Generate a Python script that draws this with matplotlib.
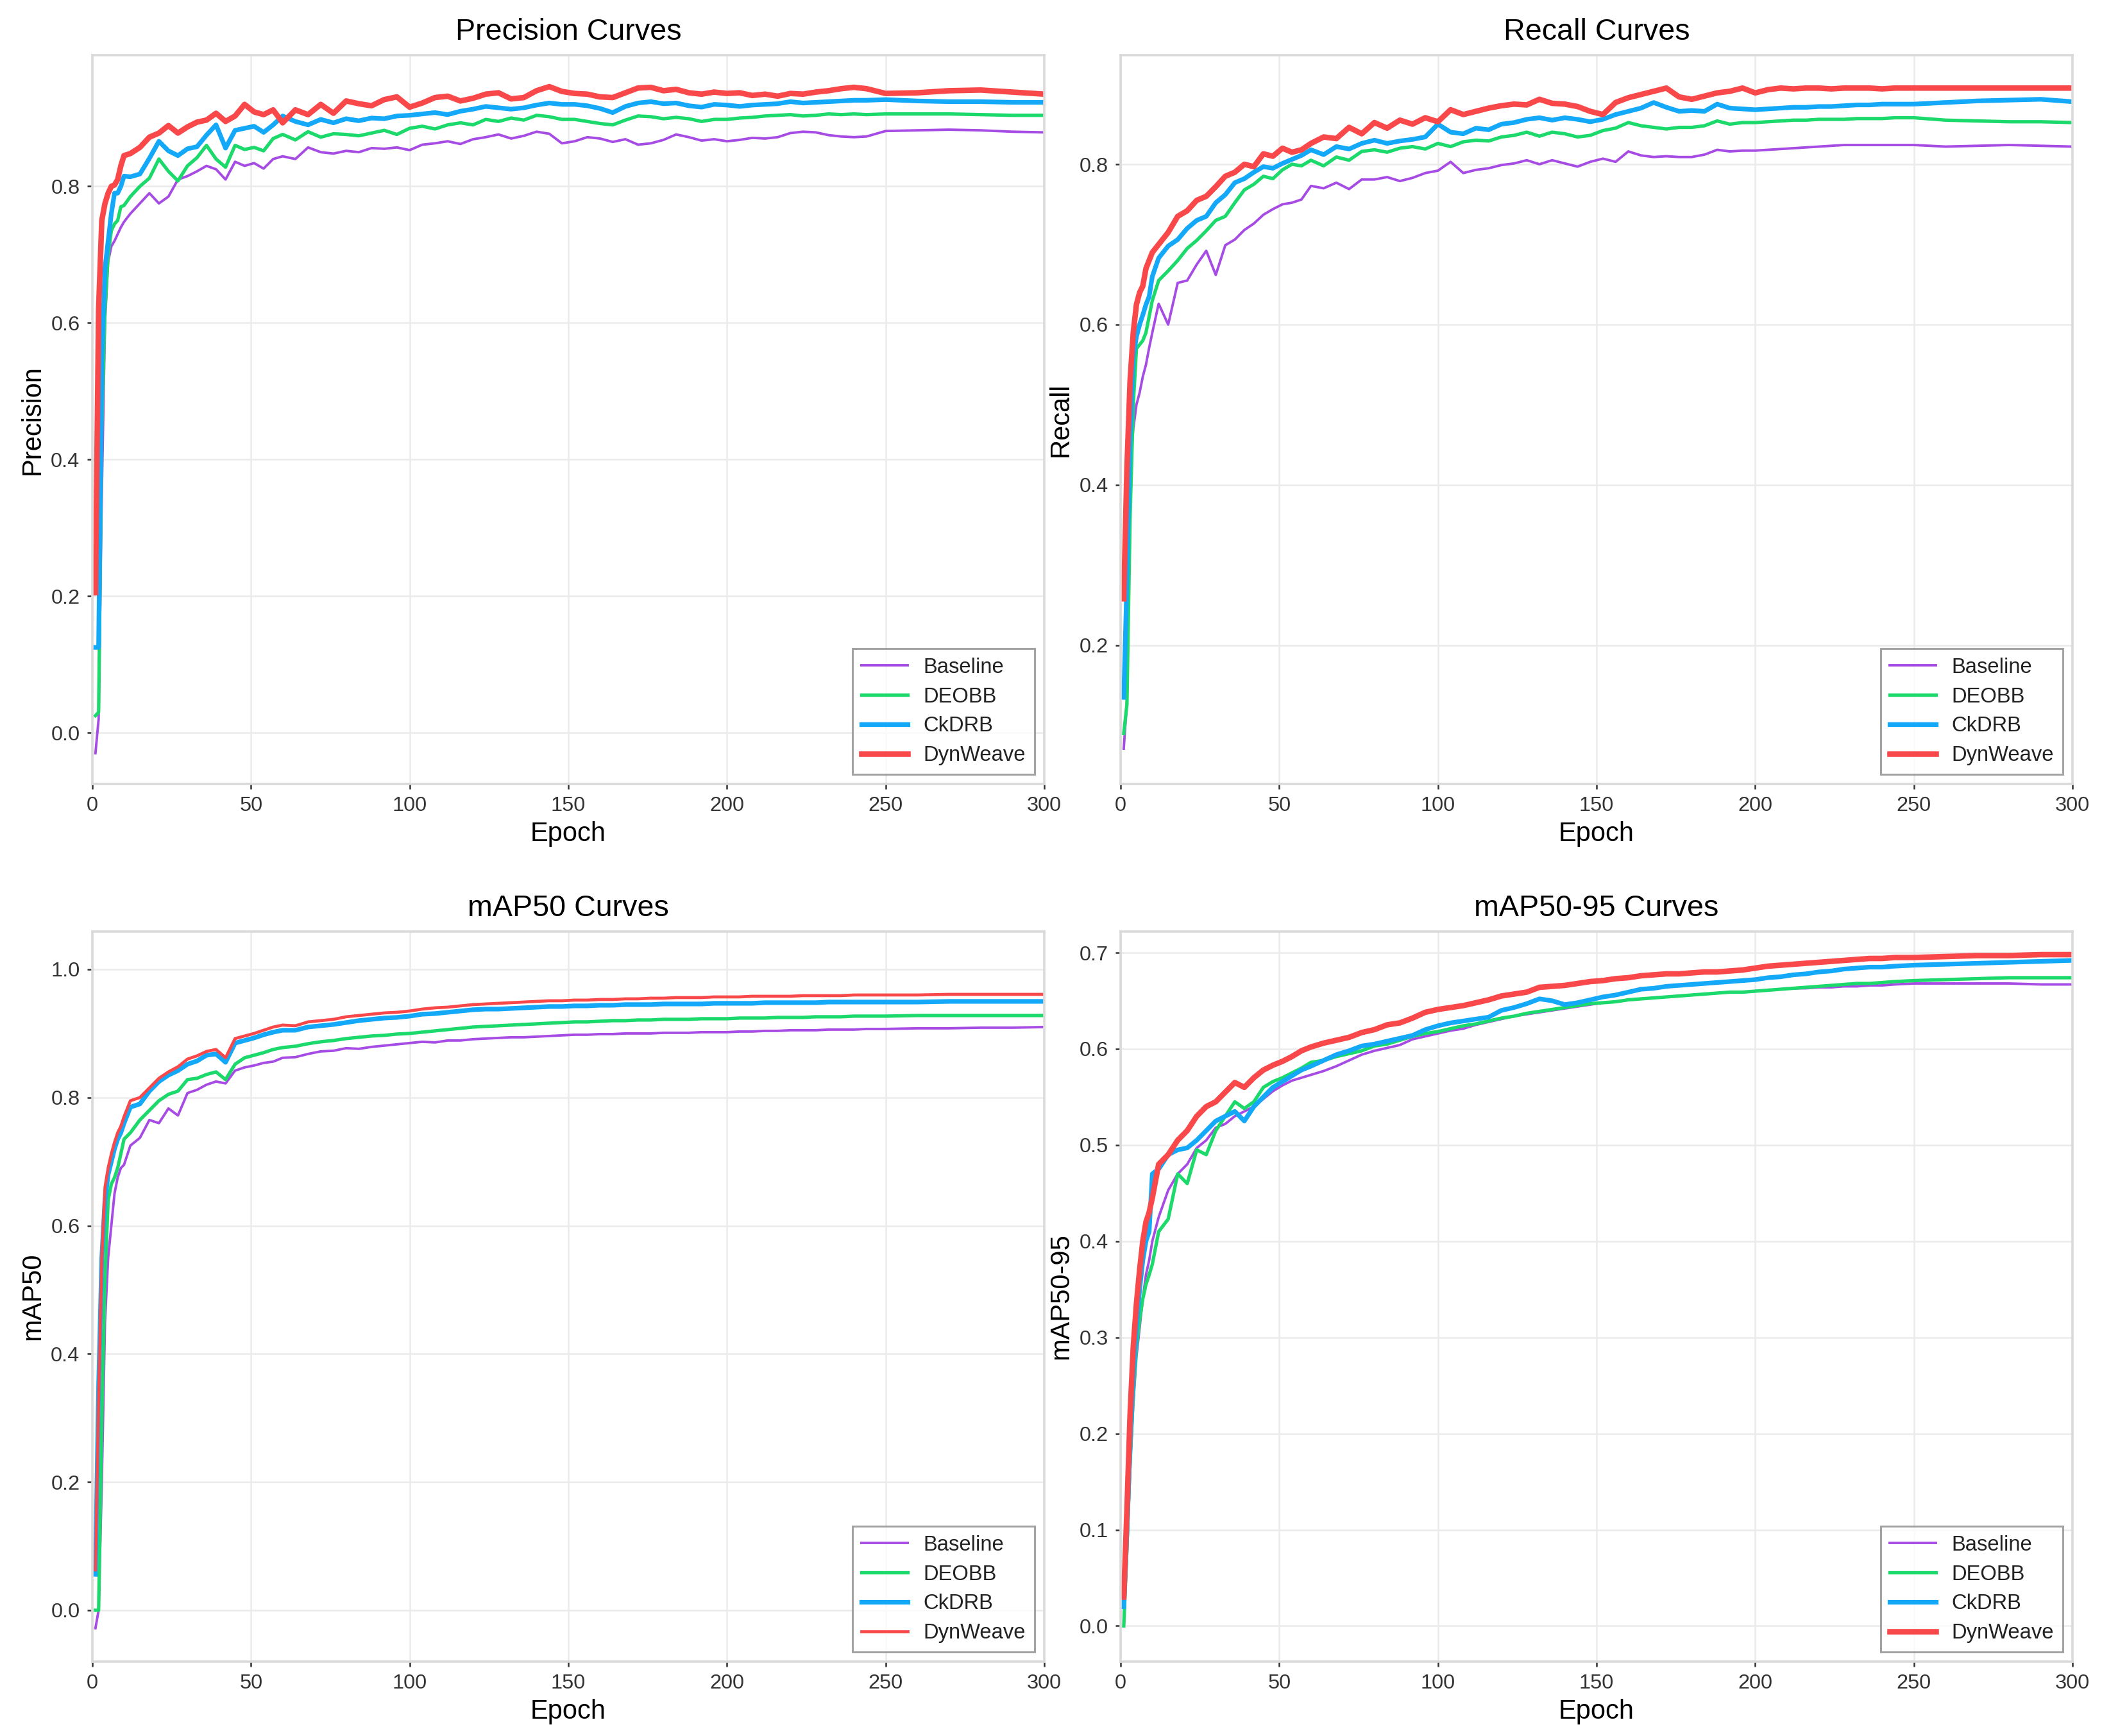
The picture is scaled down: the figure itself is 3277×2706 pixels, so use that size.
import matplotlib
matplotlib.use("Agg")
import matplotlib.pyplot as plt

plt.rcParams['font.family'] = ['Liberation Sans', 'DejaVu Sans']

epochs = ([1, 2, 3, 4, 5, 6, 7, 8, 9, 10]
          + list(range(12, 61, 3))
          + list(range(64, 245, 4))
          + [250, 260, 270, 280, 290, 300])

models = ['Baseline', 'DEOBB', 'CkDRB', 'DynWeave']
colors = ['#A64BE3', '#1BD96A', '#13A8F8', '#F8484A']

# ---- Precision ----
prec_baseline = [-0.03, 0.02, 0.35, 0.60, 0.69, 0.712, 0.72, 0.73, 0.74, 0.748,
                 0.76, 0.775, 0.79, 0.775, 0.785, 0.81, 0.815, 0.822, 0.83, 0.825, 0.81, 0.836, 0.83, 0.834, 0.826, 0.84, 0.844,
                 0.84, 0.857, 0.85, 0.848, 0.852, 0.85, 0.856, 0.855, 0.857, 0.853, 0.861, 0.863, 0.866, 0.862, 0.869,
                 0.872, 0.876, 0.87, 0.874, 0.88, 0.877, 0.863, 0.866, 0.872, 0.87, 0.865, 0.869, 0.861, 0.863, 0.868,
                 0.876, 0.872, 0.867, 0.869, 0.866, 0.868, 0.871, 0.87, 0.872, 0.878, 0.88, 0.879, 0.875, 0.873, 0.872, 0.873,
                 0.881, 0.882, 0.883, 0.882, 0.88, 0.879]
prec_deobb = [0.025, 0.03, 0.45, 0.62, 0.70, 0.735, 0.745, 0.75, 0.77, 0.772,
              0.785, 0.80, 0.812, 0.84, 0.822, 0.808, 0.83, 0.842, 0.86, 0.84, 0.828, 0.86, 0.854, 0.857, 0.852, 0.87, 0.876,
              0.868, 0.88, 0.872, 0.877, 0.876, 0.874, 0.878, 0.882, 0.876, 0.885, 0.888, 0.884, 0.89, 0.893, 0.89,
              0.898, 0.895, 0.9, 0.897, 0.904, 0.902, 0.898, 0.898, 0.895, 0.892, 0.89, 0.897, 0.903, 0.902, 0.899,
              0.901, 0.899, 0.895, 0.898, 0.898, 0.9, 0.901, 0.903, 0.904, 0.905, 0.903, 0.904, 0.906, 0.905, 0.906, 0.905,
              0.906, 0.906, 0.906, 0.905, 0.904, 0.904]
prec_ckdrb = [0.125, 0.125, 0.55, 0.68, 0.72, 0.76, 0.79, 0.79, 0.80, 0.815,
              0.814, 0.818, 0.841, 0.866, 0.852, 0.845, 0.855, 0.858, 0.875, 0.89, 0.856, 0.882, 0.885, 0.888, 0.879, 0.89, 0.903,
              0.895, 0.89, 0.898, 0.893, 0.899, 0.896, 0.9, 0.899, 0.903, 0.904, 0.906, 0.908, 0.905, 0.91, 0.913,
              0.917, 0.915, 0.913, 0.915, 0.919, 0.922, 0.92, 0.92, 0.918, 0.914, 0.908, 0.917, 0.922, 0.924, 0.921,
              0.922, 0.918, 0.916, 0.92, 0.919, 0.917, 0.919, 0.92, 0.921, 0.924, 0.922, 0.923, 0.924, 0.925, 0.926, 0.926,
              0.927, 0.925, 0.924, 0.924, 0.923, 0.923]
prec_dynweave = [0.205, 0.62, 0.75, 0.775, 0.79, 0.80, 0.802, 0.81, 0.83, 0.845,
                 0.848, 0.857, 0.872, 0.878, 0.889, 0.878, 0.887, 0.894, 0.897, 0.907, 0.895, 0.903, 0.92, 0.909, 0.905, 0.912, 0.893,
                 0.912, 0.905, 0.92, 0.907, 0.925, 0.921, 0.918, 0.927, 0.931, 0.916, 0.922, 0.93, 0.932, 0.925, 0.929,
                 0.935, 0.937, 0.928, 0.93, 0.94, 0.946, 0.939, 0.936, 0.935, 0.931, 0.93, 0.937, 0.944, 0.945, 0.94,
                 0.942, 0.937, 0.935, 0.938, 0.936, 0.937, 0.933, 0.935, 0.932, 0.936, 0.935, 0.938, 0.94, 0.943, 0.945, 0.943,
                 0.936, 0.937, 0.94, 0.941, 0.938, 0.935]

# ---- Recall ----
rec_baseline = [0.071, 0.13, 0.42, 0.47, 0.5, 0.515, 0.535, 0.55, 0.571, 0.59,
                0.626, 0.60, 0.652, 0.655, 0.675, 0.692, 0.662, 0.699, 0.706, 0.718, 0.726, 0.737, 0.744, 0.75, 0.752, 0.756, 0.773,
                0.77, 0.777, 0.769, 0.781, 0.781, 0.784, 0.779, 0.783, 0.789, 0.792, 0.803, 0.789, 0.793, 0.795, 0.799,
                0.801, 0.805, 0.8, 0.805, 0.801, 0.797, 0.803, 0.807, 0.803, 0.816, 0.811, 0.809, 0.81, 0.809, 0.809,
                0.812, 0.818, 0.816, 0.817, 0.817, 0.818, 0.819, 0.82, 0.821, 0.822, 0.823, 0.824, 0.824, 0.824, 0.824, 0.824,
                0.824, 0.822, 0.823, 0.824, 0.823, 0.822]
rec_deobb = [0.09, 0.126, 0.36, 0.5, 0.57, 0.575, 0.58, 0.59, 0.61, 0.63,
             0.655, 0.667, 0.68, 0.695, 0.705, 0.717, 0.73, 0.735, 0.752, 0.768, 0.775, 0.785, 0.782, 0.793, 0.8, 0.798, 0.805,
             0.798, 0.809, 0.805, 0.816, 0.818, 0.815, 0.82, 0.822, 0.819, 0.826, 0.822, 0.828, 0.83, 0.829, 0.834,
             0.836, 0.84, 0.835, 0.84, 0.838, 0.834, 0.836, 0.842, 0.845, 0.852, 0.848, 0.846, 0.844, 0.846, 0.846,
             0.848, 0.854, 0.85, 0.852, 0.852, 0.853, 0.854, 0.855, 0.855, 0.856, 0.856, 0.856, 0.857, 0.857, 0.857, 0.858,
             0.858, 0.855, 0.854, 0.853, 0.853, 0.852]
rec_ckdrb = [0.135, 0.28, 0.46, 0.56, 0.585, 0.60, 0.612, 0.625, 0.635, 0.66,
             0.683, 0.698, 0.706, 0.72, 0.73, 0.735, 0.752, 0.762, 0.777, 0.782, 0.79, 0.797, 0.795, 0.801, 0.806, 0.811, 0.818,
             0.812, 0.822, 0.819, 0.826, 0.83, 0.826, 0.829, 0.831, 0.834, 0.85, 0.84, 0.838, 0.845, 0.843, 0.85,
             0.852, 0.856, 0.858, 0.855, 0.858, 0.856, 0.853, 0.856, 0.862, 0.866, 0.87, 0.877, 0.871, 0.866, 0.867,
             0.866, 0.875, 0.87, 0.869, 0.868, 0.869, 0.87, 0.871, 0.871, 0.872, 0.872, 0.873, 0.874, 0.874, 0.875, 0.875,
             0.875, 0.877, 0.879, 0.88, 0.881, 0.878]
rec_dynweave = [0.258, 0.42, 0.53, 0.59, 0.625, 0.64, 0.648, 0.67, 0.68, 0.69,
                0.70, 0.715, 0.735, 0.742, 0.755, 0.76, 0.772, 0.785, 0.79, 0.8, 0.797, 0.813, 0.81, 0.82, 0.815, 0.818, 0.826,
                0.834, 0.832, 0.846, 0.838, 0.852, 0.845, 0.855, 0.85, 0.858, 0.853, 0.868, 0.862, 0.866, 0.87, 0.873,
                0.875, 0.874, 0.881, 0.876, 0.875, 0.872, 0.866, 0.862, 0.877, 0.883, 0.887, 0.891, 0.895, 0.884, 0.881,
                0.885, 0.889, 0.891, 0.895, 0.889, 0.893, 0.895, 0.894, 0.895, 0.895, 0.894, 0.895, 0.895, 0.895, 0.894, 0.895,
                0.895, 0.895, 0.895, 0.895, 0.895, 0.895]

# ---- mAP50 ----
map50_baseline = [-0.028, 0.0, 0.2, 0.45, 0.55, 0.6, 0.65, 0.675, 0.69, 0.695,
                  0.725, 0.737, 0.765, 0.76, 0.783, 0.772, 0.807, 0.812, 0.82, 0.825, 0.822, 0.842, 0.847, 0.85, 0.854, 0.856, 0.862,
                  0.863, 0.868, 0.872, 0.873, 0.877, 0.876, 0.879, 0.881, 0.883, 0.885, 0.887, 0.886, 0.889, 0.889, 0.891,
                  0.892, 0.893, 0.894, 0.894, 0.895, 0.896, 0.897, 0.898, 0.898, 0.899, 0.899, 0.9, 0.9, 0.9, 0.901,
                  0.901, 0.901, 0.902, 0.902, 0.902, 0.903, 0.903, 0.904, 0.904, 0.905, 0.905, 0.905, 0.906, 0.906, 0.906, 0.907,
                  0.907, 0.908, 0.908, 0.909, 0.909, 0.91]
map50_deobb = [0.0, 0.0, 0.3, 0.52, 0.64, 0.665, 0.675, 0.69, 0.712, 0.735,
               0.745, 0.765, 0.78, 0.795, 0.805, 0.81, 0.828, 0.83, 0.836, 0.84, 0.828, 0.852, 0.862, 0.866, 0.87, 0.875, 0.878,
               0.88, 0.884, 0.887, 0.889, 0.892, 0.894, 0.896, 0.897, 0.899, 0.9, 0.902, 0.904, 0.906, 0.908, 0.91,
               0.911, 0.912, 0.913, 0.914, 0.915, 0.916, 0.917, 0.918, 0.918, 0.919, 0.92, 0.92, 0.921, 0.921, 0.922,
               0.922, 0.922, 0.923, 0.923, 0.923, 0.924, 0.924, 0.924, 0.925, 0.925, 0.925, 0.926, 0.926, 0.926, 0.927, 0.927,
               0.927, 0.928, 0.928, 0.928, 0.928, 0.928]
map50_ckdrb = [0.056, 0.35, 0.55, 0.64, 0.68, 0.70, 0.72, 0.735, 0.745, 0.76,
               0.785, 0.79, 0.81, 0.825, 0.835, 0.842, 0.852, 0.857, 0.866, 0.868, 0.855, 0.885, 0.889, 0.893, 0.898, 0.902, 0.905,
               0.905, 0.91, 0.912, 0.914, 0.917, 0.92, 0.922, 0.924, 0.925, 0.927, 0.93, 0.931, 0.933, 0.935, 0.937,
               0.938, 0.938, 0.939, 0.94, 0.941, 0.942, 0.942, 0.943, 0.943, 0.944, 0.944, 0.945, 0.945, 0.945, 0.946,
               0.946, 0.946, 0.946, 0.947, 0.947, 0.947, 0.947, 0.948, 0.948, 0.948, 0.948, 0.948, 0.949, 0.949, 0.949, 0.949,
               0.949, 0.949, 0.95, 0.95, 0.95, 0.95]
map50_dynweave = [0.063, 0.33, 0.55, 0.66, 0.69, 0.712, 0.73, 0.745, 0.755, 0.77,
                  0.795, 0.80, 0.815, 0.83, 0.84, 0.848, 0.86, 0.865, 0.872, 0.875, 0.862, 0.892, 0.896, 0.9, 0.905, 0.91, 0.913,
                  0.912, 0.918, 0.92, 0.922, 0.926, 0.928, 0.93, 0.932, 0.933, 0.935, 0.938, 0.94, 0.941, 0.943, 0.945,
                  0.946, 0.947, 0.948, 0.949, 0.95, 0.951, 0.951, 0.952, 0.952, 0.953, 0.953, 0.954, 0.954, 0.955, 0.955,
                  0.956, 0.956, 0.956, 0.957, 0.957, 0.957, 0.958, 0.958, 0.958, 0.958, 0.959, 0.959, 0.959, 0.959, 0.96, 0.96,
                  0.96, 0.96, 0.961, 0.961, 0.961, 0.961]

# ---- mAP50-95 ----
map5095_baseline = [0.0, 0.07, 0.16, 0.23, 0.28, 0.31, 0.34, 0.365, 0.38, 0.40,
                    0.425, 0.453, 0.47, 0.48, 0.497, 0.505, 0.518, 0.522, 0.53, 0.535, 0.54, 0.548, 0.556, 0.562, 0.567, 0.57, 0.573,
                    0.577, 0.582, 0.588, 0.594, 0.598, 0.601, 0.604, 0.61, 0.613, 0.616, 0.619, 0.621, 0.625, 0.628, 0.631,
                    0.634, 0.636, 0.638, 0.64, 0.642, 0.644, 0.646, 0.648, 0.649, 0.651, 0.652, 0.653, 0.654, 0.655, 0.656,
                    0.657, 0.658, 0.659, 0.659, 0.66, 0.661, 0.662, 0.663, 0.663, 0.664, 0.664, 0.665, 0.665, 0.666, 0.666, 0.667,
                    0.668, 0.668, 0.668, 0.668, 0.667, 0.667]
map5095_deobb = [0.0, 0.08, 0.17, 0.24, 0.29, 0.318, 0.34, 0.355, 0.365, 0.376,
                 0.41, 0.423, 0.47, 0.46, 0.495, 0.49, 0.515, 0.53, 0.545, 0.538, 0.545, 0.56, 0.566, 0.57, 0.575, 0.58, 0.586,
                 0.588, 0.592, 0.595, 0.598, 0.603, 0.605, 0.609, 0.613, 0.616, 0.618, 0.621, 0.624, 0.626, 0.629, 0.632,
                 0.634, 0.637, 0.639, 0.641, 0.643, 0.645, 0.647, 0.648, 0.649, 0.651, 0.652, 0.653, 0.654, 0.655, 0.656,
                 0.657, 0.658, 0.659, 0.659, 0.66, 0.661, 0.662, 0.663, 0.664, 0.665, 0.666, 0.667, 0.668, 0.668, 0.669, 0.67,
                 0.671, 0.672, 0.673, 0.674, 0.674, 0.674]
map5095_ckdrb = [0.02, 0.1, 0.19, 0.26, 0.31, 0.35, 0.38, 0.40, 0.41, 0.47,
                 0.475, 0.49, 0.495, 0.497, 0.505, 0.515, 0.525, 0.53, 0.535, 0.525, 0.54, 0.55, 0.56, 0.566, 0.572, 0.578, 0.582,
                 0.588, 0.594, 0.598, 0.603, 0.605, 0.608, 0.611, 0.614, 0.62, 0.624, 0.627, 0.629, 0.631, 0.633, 0.64,
                 0.643, 0.647, 0.652, 0.65, 0.646, 0.648, 0.651, 0.654, 0.656, 0.659, 0.662, 0.663, 0.665, 0.666, 0.667,
                 0.668, 0.669, 0.67, 0.671, 0.672, 0.674, 0.675, 0.677, 0.678, 0.68, 0.681, 0.683, 0.684, 0.685, 0.685, 0.686,
                 0.687, 0.688, 0.689, 0.69, 0.691, 0.692]
map5095_dynweave = [0.03, 0.12, 0.22, 0.29, 0.335, 0.37, 0.40, 0.42, 0.43, 0.445,
                    0.48, 0.49, 0.505, 0.515, 0.53, 0.54, 0.545, 0.555, 0.565, 0.56, 0.57, 0.578, 0.583, 0.587, 0.592, 0.598, 0.602,
                    0.606, 0.609, 0.612, 0.617, 0.62, 0.625, 0.627, 0.632, 0.638, 0.641, 0.643, 0.645, 0.648, 0.651, 0.655,
                    0.657, 0.659, 0.664, 0.665, 0.666, 0.668, 0.67, 0.671, 0.673, 0.674, 0.676, 0.677, 0.678, 0.678, 0.679,
                    0.68, 0.68, 0.681, 0.682, 0.684, 0.686, 0.687, 0.688, 0.689, 0.69, 0.691, 0.692, 0.693, 0.694, 0.694, 0.695,
                    0.695, 0.696, 0.697, 0.697, 0.698, 0.698]

fig = plt.figure(figsize=(16.385, 13.53), dpi=200)

top_row = (0.5484, 0.4198)
bottom_row = (0.0429, 0.4205)

panels = [
    ([0.0439, top_row[0], 0.4529, top_row[1]], 'Precision Curves', 'Precision',
     [prec_baseline, prec_deobb, prec_ckdrb, prec_dynweave],
     (-0.075, 0.992), [0.0, 0.2, 0.4, 0.6, 0.8], [1.4, 1.9, 2.6, 3.1]),
    ([0.5331, top_row[0], 0.4529, top_row[1]], 'Recall Curves', 'Recall',
     [rec_baseline, rec_deobb, rec_ckdrb, rec_dynweave],
     (0.027, 0.936), [0.2, 0.4, 0.6, 0.8], [1.4, 1.9, 2.6, 3.1]),
    ([0.0439, bottom_row[0], 0.4529, bottom_row[1]], 'mAP50 Curves', 'mAP50',
     [map50_baseline, map50_deobb, map50_ckdrb, map50_dynweave],
     (-0.080, 1.059), [0.0, 0.2, 0.4, 0.6, 0.8, 1.0], [1.4, 1.9, 2.6, 1.7]),
    ([0.5331, bottom_row[0], 0.4529, bottom_row[1]], 'mAP50-95 Curves', 'mAP50-95',
     [map5095_baseline, map5095_deobb, map5095_ckdrb, map5095_dynweave],
     (-0.037, 0.722), [0.0, 0.1, 0.2, 0.3, 0.4, 0.5, 0.6, 0.7], [1.4, 1.9, 2.6, 3.1]),
]

for rect, title, ylabel, series, ylim, yticks, widths in panels:
    ax = fig.add_axes(rect)
    for name, vals, c, lw in zip(models, series, colors, widths):
        ax.plot(epochs, vals, color=c, lw=lw, label=name, solid_joinstyle='round')
    ax.set_xlim(0, 300)
    ax.set_ylim(*ylim)
    ax.set_xticks([0, 50, 100, 150, 200, 250, 300])
    ax.set_yticks(yticks)
    ax.set_yticklabels(['%.1f' % t for t in yticks])
    ax.grid(True, color='#EBEBEB', lw=0.9)
    ax.set_axisbelow(True)
    for sp in ax.spines.values():
        sp.set_color('#DADADA')
        sp.set_linewidth(1.3)
    ax.tick_params(colors='#333333', labelsize=11.7, length=3, width=0.9, pad=4)
    ax.set_title(title, fontsize=16.8, pad=8.5)
    ax.set_xlabel('Epoch', fontsize=15, labelpad=3)
    ax.set_ylabel(ylabel, fontsize=15, labelpad=3)
    leg = ax.legend(loc='lower right', fontsize=11.8, frameon=True, fancybox=False,
                    borderaxespad=0.46, handlelength=2.2, labelspacing=0.45,
                    handletextpad=0.75, borderpad=0.42)
    leg.get_frame().set_edgecolor('#8C8C8C')
    leg.get_frame().set_linewidth(1.1)
    for t in leg.get_texts():
        t.set_color('#222222')

fig.savefig('out.png', dpi=200, facecolor='white')
